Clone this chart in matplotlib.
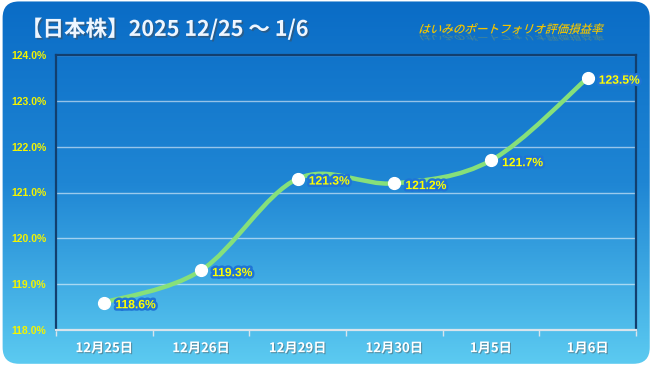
import matplotlib
matplotlib.use("Agg")
import matplotlib.pyplot as plt
import matplotlib.patheffects as pe
import numpy as np
from matplotlib.colors import LinearSegmentedColormap
from matplotlib.patches import FancyBboxPatch, PathPatch
from matplotlib.path import Path
from matplotlib.textpath import TextPath
from matplotlib.font_manager import FontProperties
from matplotlib.transforms import Affine2D

plt.rcParams["font.family"] = ["Noto Sans CJK JP", "DejaVu Sans"]

# data
dates = ["12月25日", "12月26日", "12月29日", "12月30日", "1月5日", "1月6日"]
values = [118.6, 119.3, 121.3, 121.2, 121.7, 123.5]
y_ticks = [118, 119, 120, 121, 122, 123, 124]
title = "【日本株】2025 12/25 ～ 1/6"
subtitle = "はいみのポートフォリオ評価損益率"

W, H, DPI = 655, 366, 100
fig = plt.figure(figsize=(W / DPI, H / DPI), dpi=DPI)
fig.patch.set_facecolor("white")

# gradient background with rounded corners
bg = fig.add_axes([0, 0, 1, 1], zorder=0)
bg.set_axis_off()
cmap = LinearSegmentedColormap.from_list("bg", ["#0a6cc6", "#1f86d4", "#5ccbf1"])
grad = np.linspace(0, 1, 256).reshape(-1, 1)
im = bg.imshow(grad, aspect="auto", cmap=cmap, extent=[0, 1, 0, 1], origin="upper")
bg.set_xlim(0, 1)
bg.set_ylim(0, 1)
frame = FancyBboxPatch((0.004, 0.006), 0.988, 0.99,
                       boxstyle="round,pad=0,rounding_size=0.025",
                       transform=bg.transAxes, facecolor="none", edgecolor="none",
                       mutation_aspect=W / H)
bg.add_patch(frame)
im.set_clip_path(frame)

ax = fig.add_axes([56 / W, 36 / H, 580 / W, 275 / H], zorder=1)
ax.set_facecolor("none")
x = np.arange(len(values))
ax.set_xlim(-0.5, len(values) - 0.5)
ax.set_ylim(118, 124)

for y in y_ticks:
    ax.axhline(y, color="white", alpha=0.55, lw=1.0, zorder=1)

# smoothed line (Excel-style), built as bezier segments through the points
pts = np.column_stack([x, values]).astype(float)
verts = [pts[0]]
codes = [Path.MOVETO]
n = len(pts)
for i in range(n - 1):
    p_prev = pts[max(i - 1, 0)]
    p0, p1 = pts[i], pts[i + 1]
    p_next = pts[min(i + 2, n - 1)]
    c1 = p0 + (p1 - p_prev) / 6
    c2 = p1 - (p_next - p0) / 6
    verts += [c1, c2, p1]
    codes += [Path.CURVE4] * 3
ax.add_patch(PathPatch(Path(verts, codes), facecolor="none",
                       edgecolor="#86e07a", lw=3.2, zorder=3, capstyle="round"))

ax.plot(x, values, "o", color="white", ms=8.5, zorder=4)

glow = [pe.withStroke(linewidth=3.5, foreground="#1f74d6")]
for xi, v in zip(x, values):
    ax.annotate(f"{v:.1f}%", (xi, v), xytext=(8, -2), textcoords="offset points",
                ha="left", va="center", color="#ffff00", fontsize=8.7,
                fontweight="bold", family="Liberation Sans", path_effects=glow,
                zorder=5)

ax.set_yticks(y_ticks)
ax.set_yticklabels([f"{t:.1f}%" for t in y_ticks])
ax.tick_params(axis="y", length=0, pad=7, labelsize=7.5, labelcolor="#f4f400")
for lab in ax.get_yticklabels():
    lab.set_fontweight("bold")
    lab.set_family("Liberation Sans")

ax.set_xticks(x)
ax.set_xticklabels(dates)
ax.set_xticks(np.arange(-0.5, len(values), 1), minor=True)
ax.tick_params(axis="x", which="major", length=0, pad=8, labelsize=9.5,
               labelcolor="white")
ax.tick_params(axis="x", which="minor", length=4, color="#d8e4ec", width=1)
shadow = [pe.withSimplePatchShadow(offset=(0.8, -0.8), alpha=0.45)]
for lab in ax.get_xticklabels():
    lab.set_fontweight("bold")
    lab.set_path_effects(shadow)

for side in ["left", "right", "top"]:
    ax.spines[side].set_color("#123f6e")
    ax.spines[side].set_linewidth(1.6)
ax.spines["bottom"].set_color("#d8e4ec")
ax.spines["bottom"].set_linewidth(1.6)

fig.text(21 / W, 1 - 29 / H, title, color="#eef6ff", fontsize=15.5, fontweight="bold",
         va="center", ha="left",
         path_effects=[pe.withSimplePatchShadow(offset=(1.2, -1.2), alpha=0.5)],
         zorder=5)

# italic subtitle: slanted text path drawn in pixel space
fp = FontProperties(family="Noto Sans CJK JP", weight="medium")
tp = TextPath((0, 0), subtitle, size=8.3, prop=fp)
base = Affine2D().scale(DPI / 72).skew_deg(18, 0)
sx, sy = 418, H - 33
fig.patches.append(PathPatch(tp, transform=base + Affine2D().translate(sx, sy),
                             facecolor="#f2c400", edgecolor="none", zorder=5))
fig.patches.append(PathPatch(tp, transform=base + Affine2D().scale(1, -0.6).translate(sx, sy - 2),
                             facecolor="#f2c400", edgecolor="none", alpha=0.25, zorder=5))

fig.savefig("out.png", dpi=DPI)
